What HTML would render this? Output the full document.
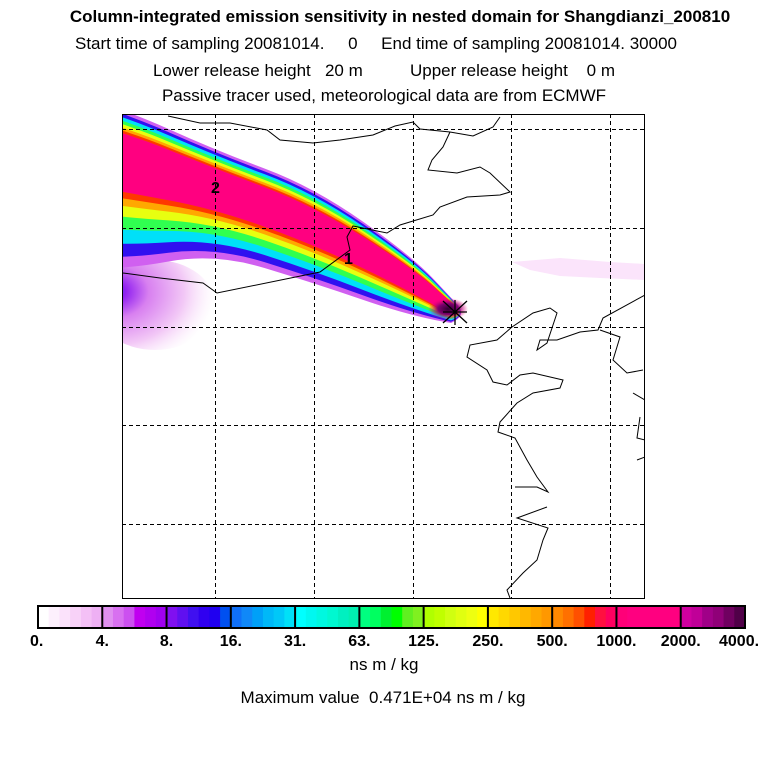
<!DOCTYPE html>
<html><head><meta charset="utf-8"><style>
body{margin:0;background:#fff;width:768px;height:768px;overflow:hidden;font-family:"Liberation Sans",sans-serif}
.t{position:absolute;left:0;width:768px;text-align:center;font-size:17px;color:#000}
</style></head><body>
<div class="t" style="top:7px;font-weight:bold;left:16px">Column-integrated emission sensitivity in nested domain for Shangdianzi_200810</div>
<div class="t" style="top:34px;left:-8px">Start time of sampling 20081014.&nbsp;&nbsp;&nbsp;&nbsp; 0&nbsp;&nbsp;&nbsp;&nbsp; End time of sampling 20081014. 30000</div>
<div class="t" style="top:61px">Lower release height&nbsp;&nbsp; 20 m&nbsp;&nbsp;&nbsp;&nbsp;&nbsp;&nbsp;&nbsp;&nbsp;&nbsp; Upper release height&nbsp;&nbsp;&nbsp; 0 m</div>
<div class="t" style="top:86px">Passive tracer used, meteorological data are from ECMWF</div>
<svg id="map" width="768" height="768" style="position:absolute;left:0;top:0">
<defs><clipPath id="pc"><rect x="122" y="114" width="522" height="484"/></clipPath>
<radialGradient id="dk"><stop offset="0" stop-color="#300030"/><stop offset="0.5" stop-color="#800070"/><stop offset="1" stop-color="#ff0080" stop-opacity="0"/></radialGradient>
<radialGradient id="blob" cx="0.15" cy="0.35" r="0.85"><stop offset="0" stop-color="#2060f0"/><stop offset="0.12" stop-color="#9020f0"/><stop offset="0.35" stop-color="#d880f0"/><stop offset="0.7" stop-color="#f2c8f6"/><stop offset="1" stop-color="#fbe8fb" stop-opacity="0"/></radialGradient>
</defs>
<g clip-path="url(#pc)" id="plume">
<ellipse cx="155" cy="305" rx="60" ry="45" fill="url(#blob)"/>
<path d="M512 262 L560 258 L610 262 L645 264 L645 280 L600 278 L560 276 L530 270 Z" fill="#fbe4fb"/>
</g>
<g id="coast" fill="none" stroke="#000" stroke-width="1" clip-path="url(#pc)">
<polyline points="168,116 200,123 230,123 267,130 280,140 313,143 340,140 373,135 395,126 413,122 420,129 450,132 473,136 493,127 500,117"/>
<polyline points="450,132 443,147 432,160 428,170 457,173 480,167 490,173 510,192 500,195 467,197 440,207 433,215 400,225 387,233 353,226 347,237 350,250 320,272 217,293 203,283 160,278 123,273"/>
<polyline points="645,295 603,318 598,330 580,332 557,340 540,340 537,350 547,343 557,313 550,308 533,313 512,327 497,340 470,345 467,357 487,370 493,382 507,385 520,375 533,373 563,380 560,388 533,393 517,403 500,422 498,432 515,438 527,460 537,477 548,492 537,487 515,487"/>
<polyline points="547,507 517,518 548,528 543,540 537,560 523,573 507,590 510,598"/>
<polyline points="600,330 620,337 613,360 627,373 643,370"/>
<polyline points="633,393 645,400"/>
<polyline points="640,417 637,438 645,440"/>
<polyline points="637,460 645,457"/>
</g>
<g id="grid" stroke="#000" stroke-dasharray="4,3" stroke-width="1"></g>
<rect x="122.5" y="114.5" width="522" height="484" fill="none" stroke="#000"/>
<text x="211" y="193" font-size="16" font-weight="bold" font-family="Liberation Sans">2</text>
<text x="344" y="264" font-size="16" font-weight="bold" font-family="Liberation Sans">1</text>
<g stroke="#000" stroke-width="1.3">
<line x1="443" y1="312" x2="467" y2="312"/><line x1="455" y1="300" x2="455" y2="325"/>
<line x1="443" y1="301" x2="467" y2="323"/><line x1="443" y1="323" x2="467" y2="301"/>
</g>
<g id="cbar"></g>
</svg>
<div class="t" style="top:655px">ns m / kg</div>
<div class="t" style="top:688px;left:-1px">Maximum value&nbsp; 0.471E+04 ns m / kg</div>
<script>
const NS="http://www.w3.org/2000/svg";
const lineX=[60,122,215,314,413,455];
const lineY=[145,158,190,228,282,311];
const upW=[55,50,40,41,25,9];
const dnW=[120,112,63,55,35,12];
const upFrac=[1,0.93,0.86,0.79,0.72,0.65,0.59,0.54];
const dnFrac=[1,0.9,0.78,0.65,0.53,0.43,0.36,0.3];
const levelColor=["#d060f0","#3010f0","#00e0f8","#30ff50","#e8ff10","#ffa800","#ff3800","#ff0080"];
const tickLabels=["0.","4.","8.","16.","31.","63.","125.","250.","500.","1000.","2000.","4000."];
const segColors=[
["#ffffff","#fdf0fd","#fbe2fb","#f8d2f8","#f4c0f6","#eeb0f4"],
["#e090f0","#d870f0","#cc50f0","#c000f0","#b000f0","#a000f0"],
["#8010f0","#6010f0","#4010f0","#3000f0","#2000f0","#0050f0"],
["#1070f8","#1088f8","#00a0f8","#00b8f8","#00c8f8","#00e0f8"],
["#00ffff","#00f8f0","#00f8e0","#00f8d0","#00f0c0","#00f0b0"],
["#00ff80","#00ff60","#00f030","#00ff00","#60f020","#80f020"],
["#b0ff00","#c0ff00","#d0ff10","#e0ff10","#eeff10","#ffff00"],
["#ffe800","#ffd800","#ffc800","#ffb800","#ffa800","#ff9800"],
["#ff8800","#ff7000","#ff5000","#ff2000","#ff1040","#ff0060"],
["#ff0078","#ff0080","#ff0080","#ff0080","#ff0080","#ff0080"],
["#d000a0","#c00098","#a00088","#900078","#700060","#500048"]];
const gridX=[215,314,413,511,610], gridY=[129,228,327,425,524];
const plume=document.getElementById('plume');
function smooth(pts,start){let d=start?"M"+pts[0][0]+","+pts[0][1]+" ":"L"+pts[0][0]+","+pts[0][1]+" ";
 for(let i=1;i<pts.length-1;i++){const mx=(pts[i][0]+pts[i+1][0])/2,my=(pts[i][1]+pts[i+1][1])/2;d+="Q"+pts[i][0]+","+pts[i][1]+" "+mx+","+my+" ";}
 const l=pts[pts.length-1];d+="L"+l[0]+","+l[1]+" ";return d;}
levelColor.forEach((c,k)=>{
 const n=lineX.length,last=n-1,fu=upFrac[k],fd=dnFrac[k];
 const up=[],dn=[];
 for(let i=0;i<n;i++){up.push([lineX[i],lineY[i]-upW[i]*fu]);}
 for(let i=last;i>=0;i--){dn.push([lineX[i]-(i==last?4:0),lineY[i]+dnW[i]*fd]);}
 let d=smooth(up,true);
 d+="Q"+(lineX[last]+14*fu)+","+(lineY[last]+4)+" "+dn[0][0]+","+dn[0][1]+" ";
 d+=smooth(dn,false)+"Z";
 const p=document.createElementNS(NS,'path');
 p.setAttribute('d',d);p.setAttribute('fill',c);
 
 
 plume.appendChild(p);
});
const dk=document.createElementNS(NS,'ellipse');
dk.setAttribute('cx',448);dk.setAttribute('cy',309);dk.setAttribute('rx',20);dk.setAttribute('ry',11);dk.setAttribute('fill','url(#dk)');


plume.appendChild(dk);
const g=document.getElementById('grid');
gridX.forEach(x=>{const l=document.createElementNS(NS,'line');l.setAttribute('x1',x+.5);l.setAttribute('x2',x+.5);l.setAttribute('y1',114);l.setAttribute('y2',598);
 
 g.appendChild(l);});
gridY.forEach(y=>{const l=document.createElementNS(NS,'line');l.setAttribute('y1',y+.5);l.setAttribute('y2',y+.5);l.setAttribute('x1',122);l.setAttribute('x2',644);
 
 g.appendChild(l);});
const cb=document.getElementById('cbar');
const x0=38,x1=745,y0=606,h=22,n=segColors.length,sw=(x1-x0)/n;
segColors.forEach((cs,s)=>{cs.forEach((c,j)=>{const r=document.createElementNS(NS,'rect');
 r.setAttribute('x',x0+s*sw+j*sw/cs.length);r.setAttribute('y',y0);r.setAttribute('width',sw/cs.length+0.6);r.setAttribute('height',h);r.setAttribute('fill',c);
 
 cb.appendChild(r);});});
for(let s=1;s<n;s++){const l=document.createElementNS(NS,'line');l.setAttribute('x1',x0+s*sw);l.setAttribute('x2',x0+s*sw);l.setAttribute('y1',y0);l.setAttribute('y2',y0+h);l.setAttribute('stroke','#000');l.setAttribute('stroke-width',2);
 
 cb.appendChild(l);}
const fr=document.createElementNS(NS,'rect');fr.setAttribute('x',x0);fr.setAttribute('y',y0);fr.setAttribute('width',x1-x0);fr.setAttribute('height',h);fr.setAttribute('fill','none');fr.setAttribute('stroke','#000');fr.setAttribute('stroke-width',2);

cb.appendChild(fr);
tickLabels.forEach((t,i)=>{const tx=document.createElementNS(NS,'text');let x=x0+i*sw;
 tx.setAttribute('x',i==0?x-8:(i==n?x-26:x));tx.setAttribute('y',646);tx.setAttribute('text-anchor',i==0||i==n?'start':'middle');
 tx.setAttribute('font-size','16');tx.setAttribute('font-weight','bold');tx.setAttribute('font-family','Liberation Sans');tx.textContent=t;
 
 cb.appendChild(tx);});
</script>
</body></html>
